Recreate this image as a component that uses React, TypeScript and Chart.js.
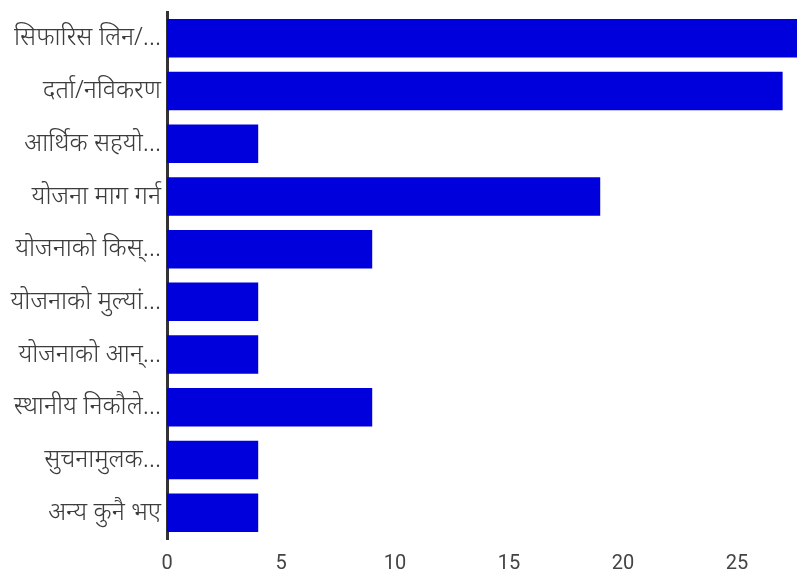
import React, { useEffect, useRef } from "react";
import { Chart, registerables } from "chart.js";

Chart.register(...registerables);

const categories = [
  "सिफारिस लिन/…",
  "दर्ता/नविकरण",
  "आर्थिक सहयो…",
  "योजना माग गर्न",
  "योजनाको किस्…",
  "योजनाको मुल्यां…",
  "योजनाको आन्…",
  "स्थानीय निकौले…",
  "सुचनामुलक…",
  "अन्य कुनै भए",
];
const values = [28, 27, 4, 19, 9, 4, 4, 9, 4, 4];
const xTicks = [0, 5, 10, 15, 20, 25];

export default function App() {
  const ref = useRef<HTMLCanvasElement | null>(null);
  useEffect(() => {
    document.body.style.margin = "0";
    const ctx = ref.current!;
    const chart = new Chart(ctx, {
      type: "bar",
      data: {
        labels: categories,
        datasets: [
          {
            data: values,
            backgroundColor: "#0000dd",
            borderWidth: 0,
            categoryPercentage: 0.73,
            barPercentage: 1,
          },
        ],
      },
      options: {
        indexAxis: "y",
        animation: false,
        responsive: false,
        maintainAspectRatio: false,
        layout: { padding: { top: 12, right: 0, left: 0, bottom: 0 } },
        plugins: { legend: { display: false }, tooltip: { enabled: false } },
        scales: {
          x: {
            min: 0,
            max: 27.63,
            afterBuildTicks: (scale: any) => {
              scale.ticks = xTicks.map((v) => ({ value: v }));
            },
            afterFit: (scale: any) => {
              scale.height = 35;
              scale.paddingLeft = 0;
              scale.paddingRight = 0;
            },
            grid: { display: false, drawTicks: false },
            border: { display: false },
            ticks: {
              padding: 13,
              color: "#444444",
              font: { family: "Roboto, 'Noto Sans', sans-serif", size: 20 },
              maxRotation: 0,
            },
          },
          y: {
            afterFit: (scale: any) => {
              scale.width = 167;
              scale.paddingTop = 0;
              scale.paddingBottom = 0;
            },
            grid: { display: false, drawTicks: false },
            border: { display: true, color: "#333333", width: 3 },
            ticks: {
              padding: 6,
              color: "#3c3c3c",
              font: { family: "'Noto Sans', Roboto, sans-serif", size: 25, weight: 300 },
              autoSkip: false,
            },
          },
        },
      },
    });
    return () => chart.destroy();
  }, []);
  return (
    <div style={{ width: 797, height: 574 }}>
      <canvas ref={ref} width={797} height={574} style={{ display: "block" }} />
    </div>
  );
}
